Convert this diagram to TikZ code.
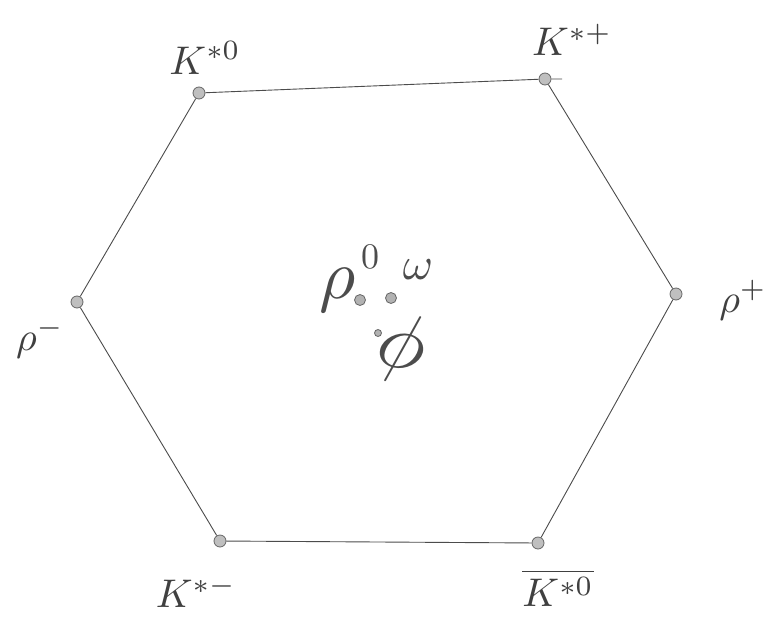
\documentclass[tikz,border=0pt]{standalone}
\usepackage{amsmath}
\begin{document}
\begin{tikzpicture}[x=1pt,y=-1pt,
  edge/.style={draw=black!70,line width=0.9pt},
  vdot/.style={circle,draw=black!60,fill=black!25,line width=0.8pt,inner sep=0pt,minimum size=12pt},
  cdot/.style={circle,draw=black!60,fill=black!30,line width=0.8pt,inner sep=0pt,minimum size=#1},
  lab/.style={text=black!75,inner sep=0pt},
  clab/.style={text=black!70,inner sep=0pt}]
\useasboundingbox (0,0) rectangle (778,621);
\fill[white] (0,0) rectangle (778,621);
% vertices
\node[vdot] (ks0) at (199,93) {};
\node[vdot] (ksp) at (545,79) {};
\node[vdot] (rhop) at (676,294) {};
\node[vdot] (aks0) at (538,543) {};
\node[vdot] (ksm) at (220,541) {};
\node[vdot] (rhom) at (77,302) {};
\coordinate (ext) at (562,79);
% edges
\draw[edge] (ks0) -- (ksp) -- (ext);
\draw[edge] (ksp) -- (rhop);
\draw[edge] (rhop) -- (aks0);
\draw[edge] (aks0) -- (ksm);
\draw[edge] (ksm) -- (rhom);
\draw[edge] (rhom) -- (ks0);
% labels
\node[lab] (lks0) at (205,58) {\scalebox{4}{$K^{*0}$}};
\node[lab] (lksp) at (572,40) {\scalebox{4}{$K^{*+}$}};
\node[lab] (lrhop) at (743,300) {\scalebox{4}{$\rho^{+}$}};
\node[lab] (lrhom) at (40,338) {\scalebox{4}{$\rho^{-}$}};
\node[lab] (lksm) at (196,592) {\scalebox{4}{$K^{*-}$}};
\node[lab] (laks0) at (558,588) {\scalebox{4}{$\overline{K^{*0}}$}};
% center
\node[cdot=11pt] (c1) at (360,300) {};
\node[cdot=11pt] (c2) at (391,298) {};
\node[cdot=7pt] (c3) at (378,333) {};
\node[clab] (lrho0) at (338,290) {\scalebox{7}{$\rho$}};
\node[clab] (lz) at (370,257) {\scalebox{3.6}{$0$}};
\node[clab] (lom) at (418,270) {\scalebox{4.6}{$\omega$}};
\node[clab,rotate=-15] (lphi) at (402,348) {\scalebox{8}{$\phi$}};
\end{tikzpicture}
\end{document}
